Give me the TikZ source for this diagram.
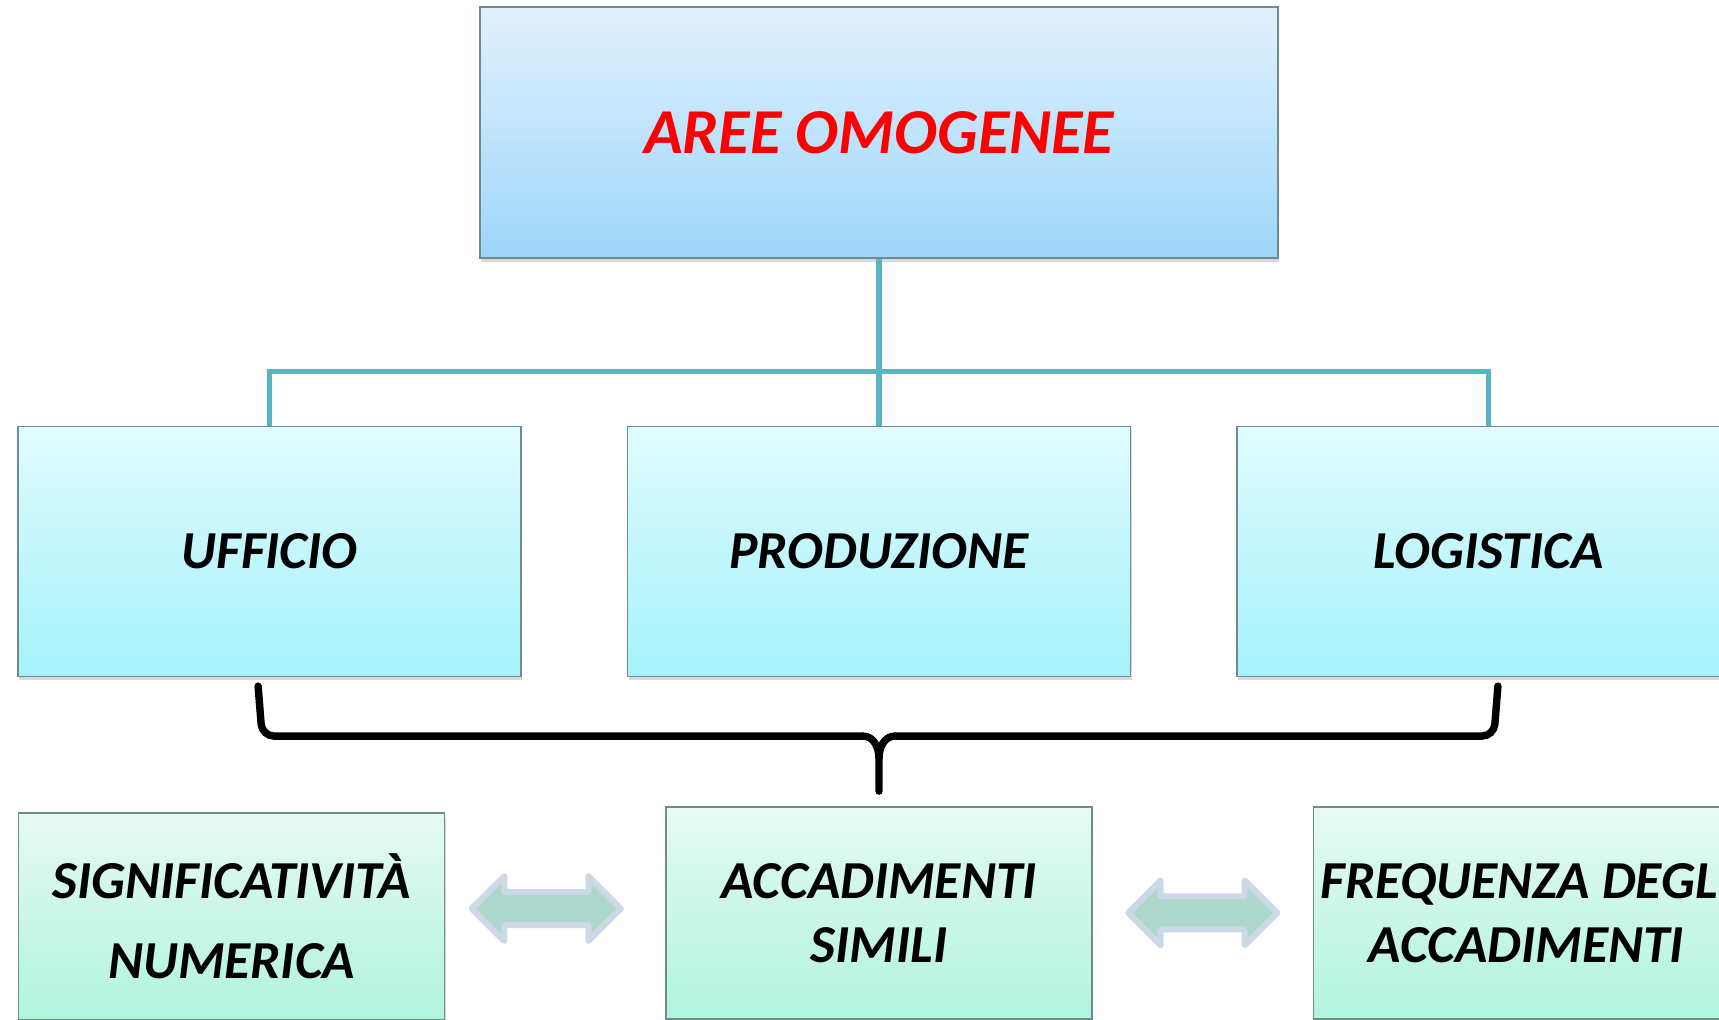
\documentclass[tikz,border=0pt]{standalone}
\usepackage{fontspec}
\setmainfont{Carlito}
\usetikzlibrary{positioning,calc,shapes.arrows,shadows}
\definecolor{linkteal}{HTML}{58B5C3}
\definecolor{boxgray}{HTML}{6F8A90}
\definecolor{topA}{HTML}{E1F1FD}
\definecolor{topB}{HTML}{9DD6FA}
\definecolor{areaA}{HTML}{E0FBFD}
\definecolor{areaB}{HTML}{A4F2FB}
\definecolor{factA}{HTML}{E6FAF2}
\definecolor{factB}{HTML}{B0F4DC}
\definecolor{arrfill}{HTML}{AED8CB}
\definecolor{arrline}{HTML}{CCD8E5}
\tikzset{
  boxshadow/.style={drop shadow={shadow xshift=0.6pt, shadow yshift=-2pt, opacity=0.3}},
  topbox/.style={rectangle, draw=boxgray, line width=0.7pt, top color=topA, bottom color=topB,
    minimum width=399pt, minimum height=125.5pt, align=center, boxshadow,
    font={\fontsize{32}{38}\selectfont\bfseries\itshape}, text=red},
  areabox/.style={rectangle, draw=boxgray, line width=0.7pt, top color=areaA, bottom color=areaB,
    minimum width=251.5pt, minimum height=125pt, align=center, boxshadow,
    font={\fontsize{26.7}{32}\selectfont\bfseries\itshape}},
  factbox/.style={rectangle, draw=boxgray, line width=0.7pt, top color=factA, bottom color=factB,
    minimum width=213pt, minimum height=106pt, align=center, boxshadow,
    font={\fontsize{26.7}{32}\selectfont\bfseries\itshape}},
  dblarrow/.style={double arrow, double arrow head extend=8pt, inner xsep=0pt, inner ysep=6.75pt,
    minimum height=74.5pt, minimum width=29.5pt, fill=arrfill, draw=arrline,
    line width=3pt, line join=round},
  link/.style={draw=linkteal, line width=2.7pt},
  groupline/.style={draw=black, line width=3.7pt, line cap=round},
}

\begin{document}
\begin{tikzpicture}
\useasboundingbox (0,0) rectangle (859.5pt,-509.5pt);
\clip (0,0) rectangle (859.5pt,-509.5pt);

\node[topbox] (top) at (439.5pt,-66.25pt) {AREE OMOGENEE};
\node[areabox, below=83.5pt of top] (prod) {PRODUZIONE};
\node[areabox, left=52.5pt of prod] (uff) {UFFICIO};
\node[areabox, right=52.5pt of prod] (log) {LOGISTICA};
\node[factbox, below=64.5pt of prod] (acc) {ACCADIMENTI\\SIMILI};
\node[factbox, left=110pt of acc, yshift=-1.75pt, minimum height=103.5pt] (sig) {SIGNIFICATIVITÀ\\[8pt]NUMERICA};
\node[factbox, right=110pt of acc] (freq) {FREQUENZA DEGLI\\ACCADIMENTI};

\node[dblarrow, xshift=-4.5pt, yshift=3pt] (arrL) at ($(sig.east)!0.5!(acc.west)$) {};
\node[dblarrow] (arrR) at ($(acc.east)!0.5!(freq.west)$) {};

\coordinate (junc) at ([yshift=-56.5pt]top.south);
\draw[link] (top.south) -- (junc) -| (uff.north);
\draw[link] (junc) -| (log.north);
\draw[link] (junc) -- (prod.north);

\coordinate (bL) at ([xshift=-5.75pt,yshift=-4.5pt]uff.south);
\coordinate (bR) at ([xshift=4.75pt,yshift=-4.5pt]log.south);
\coordinate (tip) at ([yshift=7.5pt]acc.north);
\coordinate (mid) at ([yshift=27.5pt]tip);
\draw[groupline, rounded corners=6pt] (bL) -- ($(bL |- mid)+(2pt,0)$) -- ([xshift=-8pt]mid);
\draw[groupline, rounded corners=6pt] (bR) -- ($(bR |- mid)+(-2pt,0)$) -- ([xshift=8pt]mid);
\draw[groupline] ([xshift=-8pt]mid) to[out=0,in=90] ([yshift=-11pt]mid) -- (tip);
\draw[groupline] ([xshift=8pt]mid) to[out=180,in=90] ([yshift=-11pt]mid);
\end{tikzpicture}
\end{document}
